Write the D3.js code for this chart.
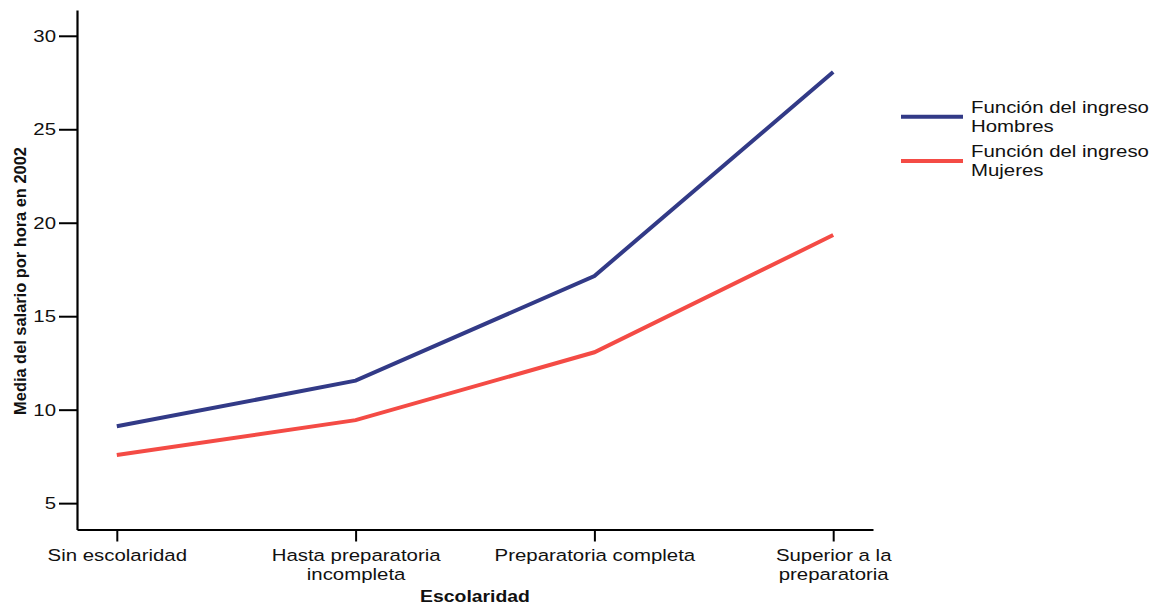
<!DOCTYPE html>
<html>
<head>
<meta charset="utf-8">
<script src="https://cdn.jsdelivr.net/npm/d3@7"></script>
<style>
  html, body { margin: 0; padding: 0; background: #fff; }
  svg { display: block; }
  text { font-family: "Liberation Sans", Arial, Helvetica, sans-serif; fill: #111; }
</style>
</head>
<body>
<svg id="chart" width="1160" height="607"></svg>
<script>
// ---- data ----
const categories = ["Sin escolaridad", "Hasta preparatoria\nincompleta", "Preparatoria completa", "Superior a la\npreparatoria"];
const hombres = [9.11, 11.55, 17.15, 28.06];
const mujeres = [7.57, 9.44, 13.07, 19.34];
const seriesNames = ["Función del ingreso\nHombres", "Función del ingreso\nMujeres"];
const yTicks = [5, 10, 15, 20, 25, 30];
const yTitle = "Media del salario por hora en 2002";
const xTitle = "Escolaridad";

const colors = ["#323a87", "#f44b45"];
const FONT = '"Liberation Sans", Arial, sans-serif';
const SX = 1.2; // horizontal stretch of the reference lettering
const svg = d3.select("#chart");

const x = d3.scalePoint().domain(categories).range([77, 873]).padding(0.1667);
const y = d3.scaleLinear().domain([3.59, 31.38]).range([529.5, 10]);

// y axis
const gy = svg.append("g").attr("transform", "translate(77,0)")
  .call(d3.axisLeft(y).tickValues(yTicks).tickSize(18).tickSizeOuter(0).tickPadding(3));
gy.selectAll("path.domain").attr("stroke", "#000").attr("stroke-width", 2.2);
gy.selectAll(".tick line").attr("stroke", "#000").attr("stroke-width", 2);
gy.selectAll(".tick text").attr("font-size", 17).style("font-family", FONT).attr("fill", "#111")
  .attr("x", 0).attr("transform", `translate(-21,0) scale(${SX},1)`);

// x axis
const gx = svg.append("g").attr("transform", "translate(0,529.5)")
  .call(d3.axisBottom(x).tickSize(12).tickSizeOuter(0));
gx.selectAll("path.domain").attr("stroke", "#000").attr("stroke-width", 2.2);
gx.selectAll(".tick line").attr("stroke", "#000").attr("stroke-width", 2);
gx.selectAll(".tick text").each(function(d) {
  const t = d3.select(this);
  t.text(null).attr("dy", null).attr("y", 32)
    .attr("font-size", 17).style("font-family", FONT).attr("fill", "#111")
    .attr("transform", `scale(${SX},1)`);
  d.split("\n").forEach((line, i) => {
    t.append("tspan").attr("x", 0).attr("y", 32 + i * 19).text(line);
  });
});

// axis titles
svg.append("text")
  .attr("transform", `translate(26,281) rotate(-90) scale(0.965,1)`)
  .attr("text-anchor", "middle")
  .attr("font-size", 17).attr("font-weight", "bold")
  .text(yTitle);
svg.append("text")
  .attr("transform", `translate(${(77 + 873) / 2},602) scale(1.14,1)`)
  .attr("text-anchor", "middle")
  .attr("font-size", 17).attr("font-weight", "bold")
  .text(xTitle);

// lines
const line = d3.line().x((d, i) => x(categories[i])).y(d => y(d));
[hombres, mujeres].forEach((s, k) => {
  svg.append("path").datum(s)
    .attr("d", line)
    .attr("fill", "none")
    .attr("stroke", colors[k])
    .attr("stroke-width", 4)
    .attr("stroke-linejoin", "miter");
});

// legend
const legendTop = [116.7, 161];
seriesNames.forEach((name, k) => {
  const g = svg.append("g");
  g.append("line")
    .attr("x1", 901).attr("x2", 963)
    .attr("y1", legendTop[k]).attr("y2", legendTop[k])
    .attr("stroke", colors[k]).attr("stroke-width", 4);
  const t = g.append("text").attr("font-size", 17)
    .attr("transform", `translate(971,0) scale(${SX},1)`);
  name.split("\n").forEach((ln, i) => {
    t.append("tspan").attr("x", 0).attr("y", legendTop[k] - 4 + i * 19).text(ln);
  });
});
</script>
</body>
</html>
